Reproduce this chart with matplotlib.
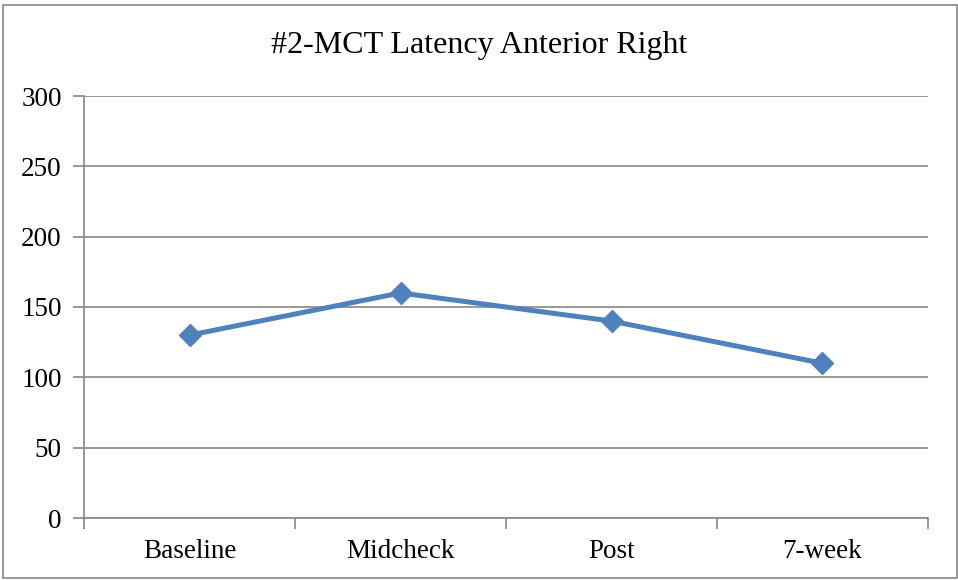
import matplotlib
matplotlib.use("Agg")
import matplotlib.pyplot as plt
from matplotlib.patches import Rectangle
import numpy as np

categories = ["Baseline", "Midcheck", "Post", "7-week"]
values = [130, 160, 140, 110]
yticks = [0, 50, 100, 150, 200, 250, 300]
title = "#2-MCT Latency Anterior Right"

plt.rcParams['font.family'] = ['Liberation Serif', 'DejaVu Serif']

fig = plt.figure(figsize=(9.58, 5.8), dpi=100)
ax = fig.add_axes([84/958, 62/580, (928-84)/958, (518-96)/580])

grid_c = '#868686'
x = np.arange(len(categories))
ax.plot(x, values, color='#4F81BD', lw=3.6, marker='D', ms=11.5, zorder=3,
        solid_joinstyle='round')

ax.set_xlim(-0.5, len(categories) - 0.5)
ax.set_ylim(0, 300)
ax.set_yticks(yticks)
ax.set_yticklabels([str(v) for v in yticks], fontsize=19.5)
ax.set_xticks(x)
ax.set_xticklabels(categories, fontsize=19.5)
ax.set_xticks(np.arange(len(categories) + 1) - 0.5, minor=True)
ax.tick_params(axis='x', which='major', length=0, pad=15)
ax.tick_params(axis='x', which='minor', length=8, color=grid_c, width=1.2, direction='out')
ax.tick_params(axis='y', length=8, color=grid_c, width=1.2, pad=8, direction='out')

ax.grid(axis='y', color=grid_c, lw=1.2)
ax.set_axisbelow(True)
for s in ['top', 'right']:
    ax.spines[s].set_visible(False)
for s in ['left', 'bottom']:
    ax.spines[s].set_color(grid_c)
    ax.spines[s].set_linewidth(1.2)

fig.text(0.5, 1 - 46/580, title, ha='center', va='center', fontsize=23)
fig.patches.append(Rectangle((3/958, 2/580), 954/958, 573/580, transform=fig.transFigure,
                             fill=False, edgecolor=grid_c, lw=1.2))

fig.savefig("out.png", dpi=100)
